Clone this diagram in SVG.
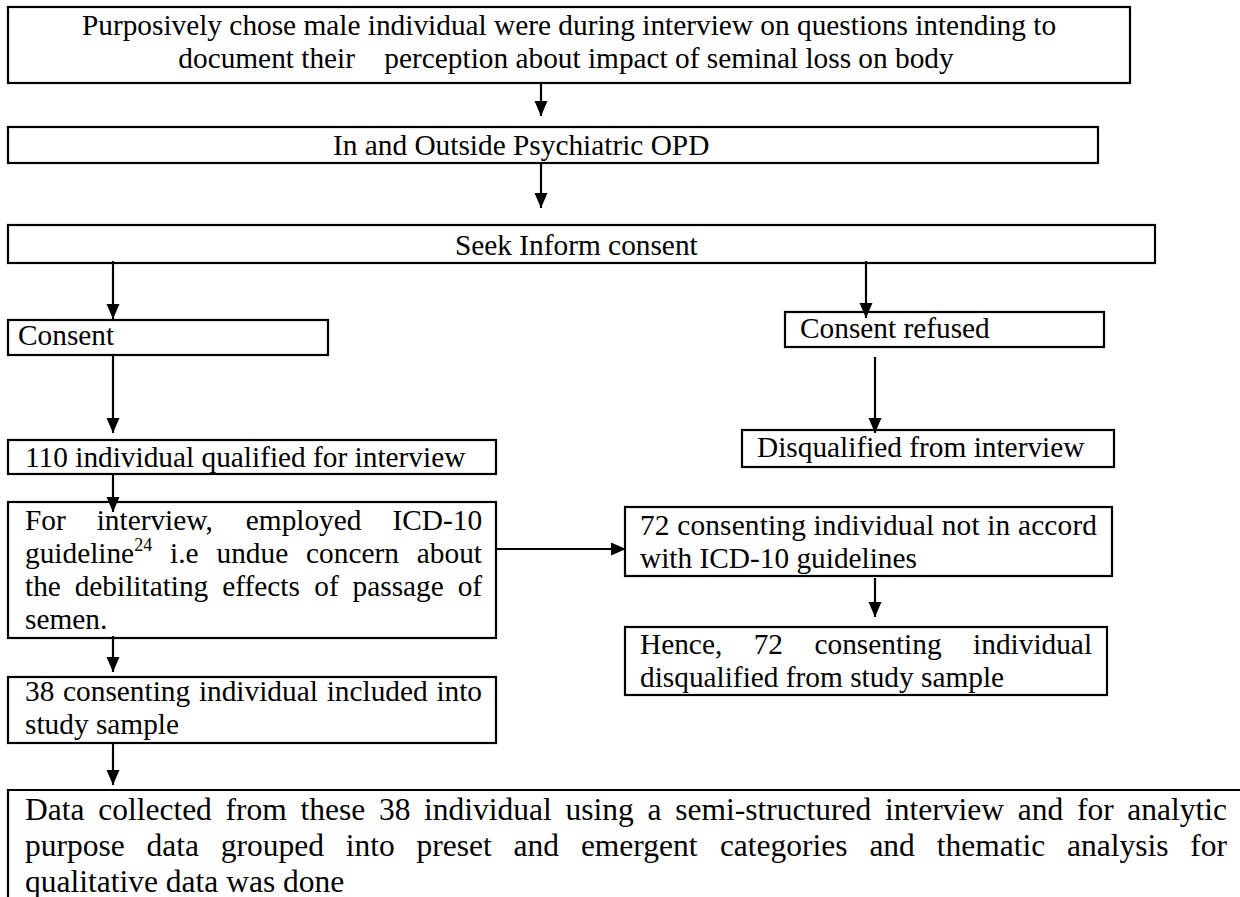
<svg xmlns="http://www.w3.org/2000/svg" width="1240" height="897" viewBox="0 0 1240 897">
<defs>
<style>
.box{fill:#fff;stroke:#000;stroke-width:2.2}
.t{font-family:"Liberation Serif","Times New Roman",serif;font-size:29.33px;fill:#000}
.tb{font-size:31.5px}
.sup{font-size:18px}
.pre{white-space:pre}
.c{stroke:#000;stroke-width:2.2;fill:none}
</style>
<marker id="ah" markerUnits="userSpaceOnUse" markerWidth="16" markerHeight="16" viewBox="0 0 16 16" refX="15" refY="8" orient="auto">
<path d="M0,1.5 L15,8 L0,14.5 Z" fill="#000"/>
</marker>
</defs>
<rect width="1240" height="897" fill="#fff"/>

<g id="n1">
<rect class="box" x="8" y="7" width="1122" height="76"/>
<text class="t" x="569" y="35" text-anchor="middle">Purposively chose male individual were during interview on questions intending to</text>
<text class="t pre" x="566" y="68" text-anchor="middle">document their    perception about impact of seminal loss on body</text>
</g>

<g id="n2">
<rect class="box" x="8" y="127" width="1090" height="36"/>
<text class="t" x="333" y="155">In and Outside Psychiatric OPD</text>
</g>

<g id="n3">
<rect class="box" x="8" y="225" width="1147" height="38"/>
<text class="t" x="455" y="255">Seek Inform consent</text>
</g>

<g id="n4">
<rect class="box" x="8" y="320" width="320" height="35"/>
<text class="t" x="18" y="345">Consent</text>
</g>

<g id="n5">
<rect class="box" x="785" y="312" width="319" height="35"/>
<text class="t" x="800" y="338">Consent refused</text>
</g>

<g id="n6">
<rect class="box" x="742" y="430" width="372" height="37"/>
<text class="t" x="757" y="457">Disqualified from interview</text>
</g>

<g id="n7">
<rect class="box" x="8" y="440" width="488" height="34"/>
<text class="t" x="25" y="467">110 individual qualified for interview</text>
</g>

<g id="n8">
<rect class="box" x="8" y="502" width="488" height="136"/>
<text class="t" y="530"><tspan x="25">For</tspan><tspan x="96.7">interview,</tspan><tspan x="245.8">employed</tspan><tspan x="392.5">ICD-10</tspan></text>
<text class="t" y="563"><tspan x="25">guideline</tspan><tspan class="sup" x="134.2" y="551">24</tspan><tspan x="170.1" y="563">i.e</tspan><tspan x="216.5">undue</tspan><tspan x="306.1">concern</tspan><tspan x="416.8">about</tspan></text>
<text class="t" y="596"><tspan x="25">the</tspan><tspan x="74.7">debilitating</tspan><tspan x="222.2">effects</tspan><tspan x="314.3">of</tspan><tspan x="352.6">passage</tspan><tspan x="457.7">of</tspan></text>
<text class="t" x="25" y="629">semen.</text>
</g>

<g id="n9">
<rect class="box" x="625" y="507" width="487" height="69"/>
<text class="t" x="640" y="535" textLength="457" lengthAdjust="spacing">72 consenting individual not in accord</text>
<text class="t" x="640" y="568">with ICD-10 guidelines</text>
</g>

<g id="n10">
<rect class="box" x="625" y="627" width="482" height="68"/>
<text class="t" y="654"><tspan x="640">Hence,</tspan><tspan x="753.7">72</tspan><tspan x="814.5">consenting</tspan><tspan x="973.1">individual</tspan></text>
<text class="t" x="640" y="687">disqualified from study sample</text>
</g>

<g id="n11">
<rect class="box" x="8" y="677" width="488" height="66"/>
<text class="t" y="701"><tspan x="25">38</tspan><tspan x="63.1">consenting</tspan><tspan x="198.9">individual</tspan><tspan x="326.7">included</tspan><tspan x="436.4">into</tspan></text>
<text class="t" x="25" y="734">study sample</text>
</g>

<g id="n12">
<path class="c" d="M1241,790 H8 V898"/>
<text class="t tb" y="820"><tspan x="25">Data</tspan><tspan x="98.2">collected</tspan><tspan x="225.6">from</tspan><tspan x="300.5">these</tspan><tspan x="378.9">38</tspan><tspan x="424.1">individual</tspan><tspan x="565.6">using</tspan><tspan x="647.6">a</tspan><tspan x="675.3">semi-structured</tspan><tspan x="885">interview</tspan><tspan x="1017.7">and</tspan><tspan x="1076.9">for</tspan><tspan x="1127.3">analytic</tspan></text>
<text class="t tb" y="856"><tspan x="25">purpose</tspan><tspan x="146.5">data</tspan><tspan x="220.8">grouped</tspan><tspan x="345.8">into</tspan><tspan x="416.6">preset</tspan><tspan x="513.6">and</tspan><tspan x="580.9">emergent</tspan><tspan x="719.9">categories</tspan><tspan x="869.4">and</tspan><tspan x="936.7">thematic</tspan><tspan x="1067">analysis</tspan><tspan x="1190.3">for</tspan></text>
<text class="t tb" x="25" y="892">qualitative data was done</text>
</g>

<g id="connectors">
<line class="c" x1="541" y1="83" x2="541" y2="116" marker-end="url(#ah)"/>
<line class="c" x1="541" y1="163" x2="541" y2="208" marker-end="url(#ah)"/>
<line class="c" x1="113" y1="261" x2="113" y2="319" marker-end="url(#ah)"/>
<line class="c" x1="866" y1="261" x2="866" y2="318" marker-end="url(#ah)"/>
<line class="c" x1="875" y1="357" x2="875" y2="433" marker-end="url(#ah)"/>
<line class="c" x1="113" y1="355" x2="113" y2="433" marker-end="url(#ah)"/>
<line class="c" x1="113" y1="474" x2="113" y2="512" marker-end="url(#ah)"/>
<line class="c" x1="496" y1="549" x2="626" y2="549" marker-end="url(#ah)"/>
<line class="c" x1="875" y1="578" x2="875" y2="617" marker-end="url(#ah)"/>
<line class="c" x1="113" y1="636" x2="113" y2="672" marker-end="url(#ah)"/>
<line class="c" x1="113" y1="743" x2="113" y2="785" marker-end="url(#ah)"/>
</g>
</svg>
